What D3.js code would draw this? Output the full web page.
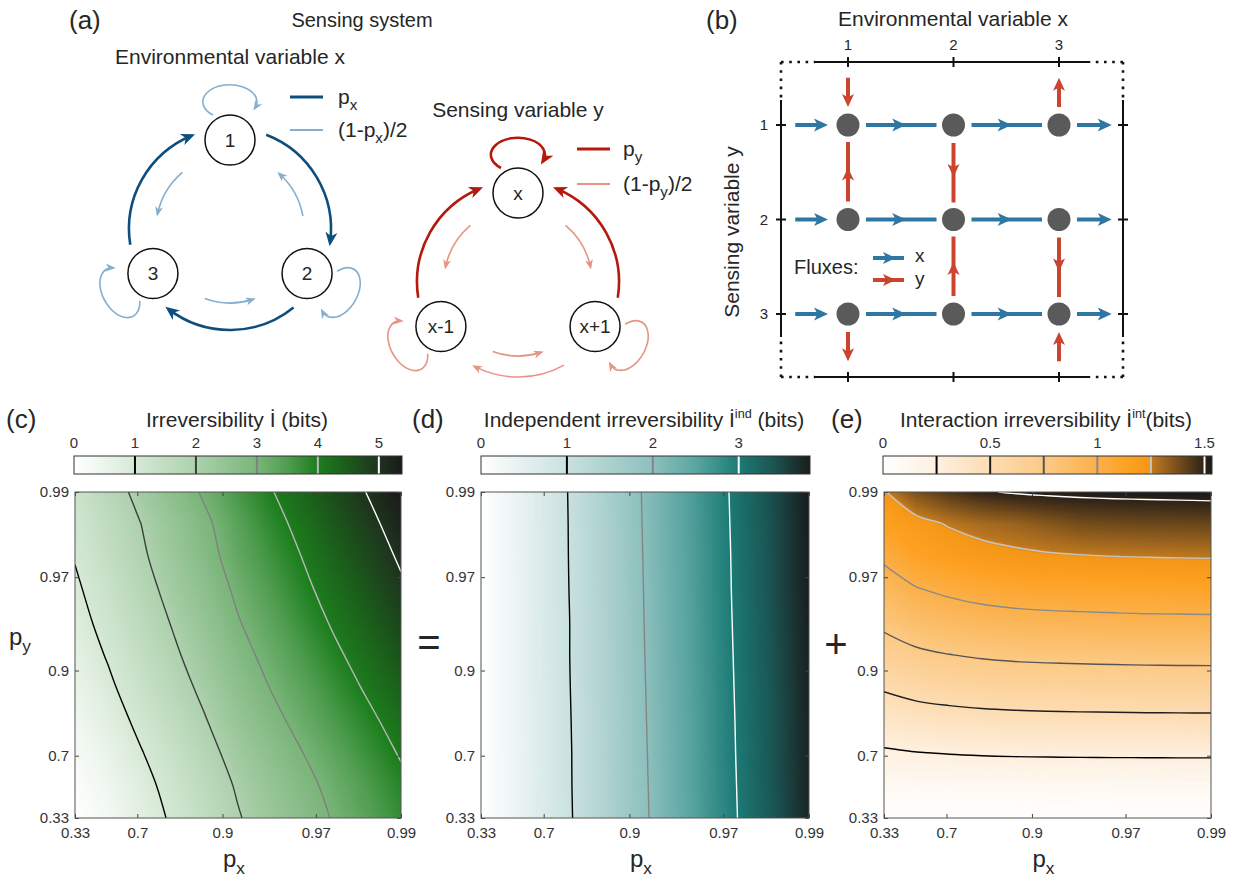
<!DOCTYPE html>
<html>
<head>
<meta charset="utf-8">
<script src="https://cdn.jsdelivr.net/npm/d3@7"></script>
<style>
html,body{margin:0;padding:0;background:#fff;}
text{white-space:pre;}
</style>
</head>
<body>
<script>
// ======================= DATA =======================
// Panel (a): Markov chains of the environment x and of the sensor y
const envStates = ["1", "2", "3"];
const sensStates = ["x", "x+1", "x-1"];
// [from, to, kind]  kind "p" = p, "q" = (1-p)/2
const envTransitions = [
  ["1","2","p"], ["2","3","p"], ["3","1","p"],
  ["2","1","q"], ["1","3","q"], ["3","2","q"],
  ["1","1","q"], ["2","2","q"], ["3","3","q"]
];
const sensTransitions = [
  ["x-1","x","p"], ["x+1","x","p"], ["x","x","p"],
  ["x","x-1","q"], ["x","x+1","q"], ["x-1","x+1","q"], ["x+1","x-1","q"],
  ["x-1","x-1","q"], ["x+1","x+1","q"]
];

// Panel (b): state grid and fluxes
const gridXStates = [1, 2, 3];
const gridYStates = [1, 2, 3];
const xFluxSegments = [[0.5, 1], [1, 2], [2, 3], [3, 3.5]];   // every row, rightwards
const yFluxes = [
  {x: 1, from: 0.5, to: 1}, {x: 1, from: 2, to: 1}, {x: 1, from: 3, to: 3.5},
  {x: 2, from: 1, to: 2},   {x: 2, from: 3, to: 2},
  {x: 3, from: 1, to: 0.5}, {x: 3, from: 2, to: 3}, {x: 3, from: 3.5, to: 3}
];

// Panels (c)-(e): irreversibility maps (rows: py from 0.99 down to 0.33; columns: px from 0.33 to 0.99)
const pxGrid = [0.33, 0.56, 0.711, 0.81, 0.875, 0.918, 0.946, 0.965, 0.977, 0.985, 0.99];
const pyGrid = [0.99, 0.985, 0.977, 0.965, 0.946, 0.918, 0.875, 0.81, 0.711, 0.56, 0.33];
const axisTicks = [0.33, 0.7, 0.9, 0.97, 0.99];

const irrTotal = [
  [1.24, 1.70, 2.17, 2.64, 3.09, 3.57, 3.96, 4.33, 4.70, 5.04, 5.37],
  [1.14, 1.54, 1.99, 2.44, 2.89, 3.39, 3.80, 4.18, 4.55, 4.89, 5.22],
  [1.03, 1.45, 1.89, 2.34, 2.78, 3.27, 3.65, 4.03, 4.40, 4.74, 5.07],
  [0.91, 1.31, 1.75, 2.20, 2.64, 3.11, 3.50, 3.89, 4.25, 4.59, 4.92],
  [0.79, 1.18, 1.61, 2.04, 2.49, 2.96, 3.34, 3.73, 4.09, 4.43, 4.76],
  [0.66, 1.04, 1.46, 1.89, 2.32, 2.79, 3.18, 3.56, 3.92, 4.26, 4.59],
  [0.52, 0.89, 1.30, 1.72, 2.15, 2.61, 3.01, 3.38, 3.74, 4.09, 4.42],
  [0.37, 0.73, 1.13, 1.54, 1.97, 2.43, 2.83, 3.20, 3.56, 3.90, 4.23],
  [0.23, 0.56, 0.96, 1.35, 1.79, 2.24, 2.63, 3.01, 3.37, 3.72, 4.05],
  [0.10, 0.41, 0.80, 1.20, 1.62, 2.07, 2.46, 2.84, 3.19, 3.54, 3.87],
  [0.00, 0.31, 0.69, 1.08, 1.50, 1.95, 2.34, 2.72, 3.07, 3.42, 3.75]
];
const irrInd = [
  [0, 0.33, 0.73, 1.15, 1.58, 2.05, 2.43, 2.80, 3.17, 3.50, 3.83],
  [0, 0.33, 0.73, 1.14, 1.57, 2.04, 2.42, 2.79, 3.16, 3.49, 3.82],
  [0, 0.33, 0.72, 1.14, 1.56, 2.03, 2.41, 2.78, 3.15, 3.48, 3.81],
  [0, 0.32, 0.72, 1.13, 1.56, 2.02, 2.40, 2.78, 3.14, 3.48, 3.81],
  [0, 0.32, 0.71, 1.12, 1.55, 2.01, 2.39, 2.77, 3.13, 3.47, 3.80],
  [0, 0.32, 0.71, 1.12, 1.54, 2.00, 2.39, 2.76, 3.12, 3.46, 3.79],
  [0, 0.32, 0.71, 1.11, 1.53, 1.99, 2.38, 2.75, 3.11, 3.45, 3.78],
  [0, 0.32, 0.70, 1.10, 1.52, 1.98, 2.37, 2.74, 3.10, 3.44, 3.77],
  [0, 0.31, 0.70, 1.09, 1.52, 1.97, 2.36, 2.74, 3.09, 3.44, 3.77],
  [0, 0.31, 0.69, 1.09, 1.51, 1.96, 2.35, 2.73, 3.08, 3.43, 3.76],
  [0, 0.31, 0.69, 1.08, 1.50, 1.95, 2.34, 2.72, 3.07, 3.42, 3.75]
];
const irrInt = [
  [1.24, 1.37, 1.44, 1.49, 1.51, 1.52, 1.525, 1.53, 1.533, 1.536, 1.54],
  [1.141, 1.21, 1.262, 1.297, 1.317, 1.35, 1.381, 1.389, 1.394, 1.396, 1.399],
  [1.03, 1.121, 1.169, 1.203, 1.224, 1.235, 1.242, 1.249, 1.253, 1.256, 1.258],
  [0.911, 0.992, 1.034, 1.065, 1.083, 1.093, 1.099, 1.105, 1.109, 1.111, 1.113],
  [0.789, 0.859, 0.895, 0.921, 0.937, 0.946, 0.951, 0.956, 0.960, 0.961, 0.963],
  [0.656, 0.715, 0.746, 0.768, 0.782, 0.789, 0.794, 0.798, 0.801, 0.803, 0.804],
  [0.518, 0.565, 0.590, 0.608, 0.618, 0.624, 0.628, 0.631, 0.634, 0.635, 0.636],
  [0.370, 0.406, 0.426, 0.439, 0.447, 0.452, 0.455, 0.457, 0.459, 0.460, 0.461],
  [0.228, 0.246, 0.257, 0.264, 0.269, 0.271, 0.273, 0.274, 0.275, 0.276, 0.276],
  [0.100, 0.104, 0.106, 0.108, 0.108, 0.109, 0.109, 0.110, 0.110, 0.110, 0.110],
  [0, 0, 0, 0, 0, 0, 0, 0, 0, 0, 0]
];
const levelsTotal = [1, 2, 3, 4, 5];
const levelsInd = [1, 2, 3];
const levelsInt = [0.25, 0.5, 0.75, 1, 1.25, 1.5];
const cbTicksTotal = [0, 1, 2, 3, 4, 5];
const cbTicksInd = [0, 1, 2, 3];
const cbTicksInt = [0, 0.5, 1, 1.5];
const cbMaxTotal = 5.38, cbMaxInd = 3.83, cbMaxInt = 1.535;

// ======================= SETUP =======================
const TXT = "#262626";
const FONT = "'Liberation Sans', Arial, Helvetica, sans-serif";
const svg = d3.select("body").append("svg")
  .attr("width", 1236).attr("height", 880)
  .attr("font-family", FONT).style("display", "block");
const defs = svg.append("defs");

function richText(g, x, y, parts, size, anchor, fill) {
  const t = g.append("text").attr("x", x).attr("y", y)
    .attr("font-size", size).attr("text-anchor", anchor || "start")
    .attr("fill", fill || TXT);
  let shift = 0;
  parts.forEach(pt => {
    const s = Array.isArray(pt) ? pt[0] : pt;
    const kind = Array.isArray(pt) ? pt[1] : null;
    let target = 0, fs = size;
    if (kind === "sub") { target = size * 0.28; fs = size * 0.72; }
    if (kind === "sup") { target = -size * 0.45; fs = size * 0.6; }
    t.append("tspan").text(s).attr("dy", target - shift).attr("font-size", fs);
    shift = target;
  });
  return t;
}

function marker(id, color, len, wid, ahead) {
  defs.append("marker").attr("id", id)
    .attr("markerUnits", "userSpaceOnUse")
    .attr("viewBox", `${ahead - len - 1} ${-wid / 2 - 1} ${len + 2} ${wid + 2}`)
    .attr("markerWidth", len + 2).attr("markerHeight", wid + 2)
    .attr("refX", 0).attr("refY", 0).attr("orient", "auto")
    .append("path")
    .attr("d", `M${ahead},0 L${ahead - len},${-wid / 2} L${ahead - len * 0.72},0 L${ahead - len},${wid / 2}Z`)
    .attr("fill", color);
}

// ======================= PANEL (a) =======================
const BLUE_D = "#0e4e7e", BLUE_L = "#86aecd", RED_D = "#b3190d", RED_L = "#e69484";
marker("mBD", BLUE_D, 14, 12, 4);
marker("mBL", BLUE_L, 10, 8, 3);
marker("mRD", RED_D, 14, 12, 4);
marker("mRL", RED_L, 10, 8, 3);

const gA = svg.append("g");
gA.append("text").attr("x", 69).attr("y", 29).attr("font-size", 26).attr("fill", TXT).text("(a)");
gA.append("text").attr("x", 362).attr("y", 27).attr("font-size", 20).attr("fill", TXT)
  .attr("text-anchor", "middle").text("Sensing system");
gA.append("text").attr("x", 230).attr("y", 64).attr("font-size", 21).attr("fill", TXT)
  .attr("text-anchor", "middle").text("Environmental variable x");
gA.append("text").attr("x", 518).attr("y", 117).attr("font-size", 21).attr("fill", TXT)
  .attr("text-anchor", "middle").text("Sensing variable y");

function drawChain(g, states, transitions, cx, cy, dark, light, mDark, mLight) {
  const angles = [-90, 30, 150];
  const dist = 89;
  const pos = {};
  states.forEach((s, i) => {
    const a = angles[i] * Math.PI / 180;
    pos[s] = {a: angles[i], x: cx + dist * Math.cos(a), y: cy + dist * Math.sin(a)};
  });
  transitions.forEach(([from, to, kind]) => {
    const isDark = kind === "p";
    const color = isDark ? dark : light;
    const sw = isDark ? 2.6 : 1.6;
    const mk = `url(#${isDark ? mDark : mLight})`;
    if (from === to) {
      const p = pos[from];
      g.append("path").attr("d", "M-17,-25 A27,17 0 1 1 25,-32")
        .attr("transform", `translate(${p.x},${p.y}) rotate(${p.a + 90})`)
        .attr("fill", "none").attr("stroke", color).attr("stroke-width", sw)
        .attr("marker-end", mk);
      return;
    }
    const a0 = pos[from].a, a1 = pos[to].a;
    const diff = ((a1 - a0 + 540) % 360) - 180;
    const s = Math.sign(diff);
    const pairHasDark = transitions.some(t => t[2] === "p" &&
      ((t[0] === from && t[1] === to) || (t[0] === to && t[1] === from)));
    const outer = isDark || (!pairHasDark && s > 0);
    let st, en, r;
    if (outer) {
      if (isDark) { st = a0 + s * 21; en = a1 - s * 22.5; r = 101; }
      else { st = a0 + s * 31; en = a1 - s * 33; r = 95; }
    } else {
      const mid = a0 + diff / 2;
      st = mid - s * 20; en = mid + s * 18; r = 74;
    }
    const path = d3.path();
    path.arc(cx, cy, r, st * Math.PI / 180, en * Math.PI / 180, s < 0);
    g.append("path").attr("d", path.toString())
      .attr("fill", "none").attr("stroke", color).attr("stroke-width", sw)
      .attr("marker-end", mk);
  });
  states.forEach(s => {
    const p = pos[s];
    g.append("circle").attr("cx", p.x).attr("cy", p.y).attr("r", 25)
      .attr("fill", "#fff").attr("stroke", "#111").attr("stroke-width", 1.5);
    g.append("text").attr("x", p.x).attr("y", p.y + 6.5).attr("text-anchor", "middle")
      .attr("font-size", 19).attr("fill", TXT).text(s);
  });
}
drawChain(gA, envStates, envTransitions, 230, 229, BLUE_D, BLUE_L, "mBD", "mBL");
drawChain(gA, sensStates, sensTransitions, 518, 282, RED_D, RED_L, "mRD", "mRL");

// legends of (a)
gA.append("line").attr("x1", 290).attr("x2", 323).attr("y1", 97).attr("y2", 97)
  .attr("stroke", BLUE_D).attr("stroke-width", 3);
gA.append("line").attr("x1", 290).attr("x2", 323).attr("y1", 130).attr("y2", 130)
  .attr("stroke", BLUE_L).attr("stroke-width", 2.2);
richText(gA, 338, 104, ["p", ["x", "sub"]], 21);
richText(gA, 338, 137, ["(1-p", ["x", "sub"], ")/2"], 21);
gA.append("line").attr("x1", 577).attr("x2", 610).attr("y1", 149).attr("y2", 149)
  .attr("stroke", RED_D).attr("stroke-width", 3);
gA.append("line").attr("x1", 577).attr("x2", 610).attr("y1", 184).attr("y2", 184)
  .attr("stroke", RED_L).attr("stroke-width", 2.2);
richText(gA, 623, 156, ["p", ["y", "sub"]], 21);
richText(gA, 623, 191, ["(1-p", ["y", "sub"], ")/2"], 21);

// ======================= PANEL (b) =======================
const gB = svg.append("g");
const FLUX_X = "#2f77a3", FLUX_Y = "#cb4430", NODE = "#5a5a5a";
const xb = d3.scaleLinear().domain([1, 3]).range([848, 1059]);
const yb = d3.scaleLinear().domain([1, 3]).range([125, 314]);

gB.append("text").attr("x", 706).attr("y", 29).attr("font-size", 26).attr("fill", TXT).text("(b)");
gB.append("text").attr("x", 953).attr("y", 26).attr("font-size", 21).attr("fill", TXT)
  .attr("text-anchor", "middle").text("Environmental variable x");
gB.append("text").attr("transform", "translate(739,232) rotate(-90)")
  .attr("font-size", 21).attr("fill", TXT).attr("text-anchor", "middle").text("Sensing variable y");

// frame
const fL = 781, fR = 1123, fT = 62, fB = 377;
const sX0 = 815, sX1 = 1090, sY0 = 100, sY1 = 337;
function seg(x1, y1, x2, y2, dotted) {
  gB.append("line").attr("x1", x1).attr("y1", y1).attr("x2", x2).attr("y2", y2)
    .attr("stroke", "#111").attr("stroke-width", dotted ? 2.6 : 2)
    .attr("stroke-dasharray", dotted ? "2.6,5.6" : null);
}
[fT, fB].forEach(y => {
  seg(sX0, y, sX1, y, false);
  seg(fL, y, sX0, y, true);
  seg(fR, y, sX1, y, true);
});
[fL, fR].forEach(x => {
  seg(x, sY0, x, sY1, false);
  seg(x, fT, x, sY0, true);
  seg(x, fB, x, sY1, true);
});
gridXStates.forEach(s => {
  [fT, fB].forEach(y => seg(xb(s), y - 5, xb(s), y + 5, false));
  gB.append("text").attr("x", xb(s)).attr("y", 50).attr("text-anchor", "middle")
    .attr("font-size", 15).attr("fill", TXT).text(s);
});
gridYStates.forEach(s => {
  [fL, fR].forEach(x => seg(x - 5, yb(s), x + 5, yb(s), false));
  gB.append("text").attr("x", 768).attr("y", yb(s) + 5).attr("text-anchor", "end")
    .attr("font-size", 15).attr("fill", TXT).text(s);
});

function arrow(g, x1, y1, x2, y2, tipFrac, color, len, wid, lw) {
  const dx = x2 - x1, dy = y2 - y1, L = Math.hypot(dx, dy);
  const ux = dx / L, uy = dy / L;
  const tx = x1 + dx * tipFrac, ty = y1 + dy * tipFrac;
  const lineEnd = tipFrac >= 1 ? [tx - ux * len * 0.6, ty - uy * len * 0.6] : [x2, y2];
  g.append("line").attr("x1", x1).attr("y1", y1).attr("x2", lineEnd[0]).attr("y2", lineEnd[1])
    .attr("stroke", color).attr("stroke-width", lw);
  const bx = tx - ux * len, by = ty - uy * len;
  const nx = tx - ux * len * 0.75, ny = ty - uy * len * 0.75;
  const px = -uy * wid / 2, py = ux * wid / 2;
  g.append("path").attr("d",
    `M${tx},${ty} L${bx + px},${by + py} L${nx},${ny} L${bx - px},${by - py}Z`)
    .attr("fill", color);
}
const isNode = v => Number.isInteger(v);
gridYStates.forEach(row => {
  xFluxSegments.forEach(([a, b]) => {
    const both = isNode(a) && isNode(b);
    const x1 = isNode(a) ? xb(a) + 18 : xb(a);
    const x2 = isNode(b) ? xb(b) - (both ? 17 : 20) : xb(b);
    arrow(gB, x1, yb(row), x2, yb(row), both ? 0.57 : 1, FLUX_X, 14, 13, 4);
  });
});
yFluxes.forEach(f => {
  const dir = Math.sign(f.to - f.from);
  const both = isNode(f.from) && isNode(f.to);
  const y1 = isNode(f.from) ? yb(f.from) + dir * 18 : yb(f.from);
  const y2 = isNode(f.to) ? yb(f.to) - dir * (both ? 17 : 18) : yb(f.to);
  arrow(gB, xb(f.x), y1, xb(f.x), y2, both ? 0.57 : 1, FLUX_Y, 13, 12, 4);
});
gridYStates.forEach(r => gridXStates.forEach(c => {
  gB.append("circle").attr("cx", xb(c)).attr("cy", yb(r)).attr("r", 11.5).attr("fill", NODE);
}));
// flux legend
gB.append("text").attr("x", 794).attr("y", 274).attr("font-size", 20).attr("fill", TXT).text("Fluxes:");
arrow(gB, 873, 258, 904, 258, 0.74, FLUX_X, 13, 12, 4);
arrow(gB, 873, 280, 904, 280, 0.74, FLUX_Y, 13, 12, 4);
gB.append("text").attr("x", 915).attr("y", 262).attr("font-size", 19).attr("fill", TXT).text("x");
gB.append("text").attr("x", 915).attr("y", 285).attr("font-size", 19).attr("fill", TXT).text("y");

// ======================= PANELS (c)-(e) =======================
const panels = [
  {
    letter: "(c)", letterX: 6, title: ["Irreversibility İ (bits)"], titleX: 237,
    values: irrTotal, levels: levelsTotal, cbTicks: cbTicksTotal, cbMax: cbMaxTotal,
    levelColors: ["#000000", "#3d3d3d", "#808080", "#b8b8b8", "#ffffff"],
    stops: [[0, "#ffffff"], [0.5, "#ecf5ec"], [1, "#d6e9d6"], [2, "#add1ad"], [3, "#7ab57a"],
            [3.5, "#509d50"], [3.97, "#1e7f1e"], [4.5, "#1b5a1b"], [5.0, "#1f331f"], [5.38, "#1a1a1a"]],
    plot: [75, 401, 492, 818], cb: [74, 402], ylabel: true
  },
  {
    letter: "(d)", letterX: 412, title: ["Independent irreversibility İ", ["ind", "sup"], " (bits)"], titleX: 644,
    values: irrInd, levels: levelsInd, cbTicks: cbTicksInd, cbMax: cbMaxInd,
    levelColors: ["#000000", "#858585", "#ffffff"],
    stops: [[0, "#ffffff"], [1, "#c9e1e0"], [2, "#8dc0bd"], [2.5, "#5aa5a1"], [3, "#1c7b76"],
            [3.4, "#1b5553"], [3.83, "#1a1c1c"]],
    plot: [481, 809, 492, 818], cb: [481, 810], ylabel: false
  },
  {
    letter: "(e)", letterX: 831, title: ["Interaction irreversibility İ", ["int", "sup"], "(bits)"], titleX: 1046,
    values: irrInt, levels: levelsInt, cbTicks: cbTicksInt, cbMax: cbMaxInt,
    levelColors: ["#000000", "#1e1e1e", "#555555", "#8a8a8a", "#c4c4c4", "#ffffff"],
    stops: [[0, "#ffffff"], [0.25, "#fef0e0"], [0.5, "#fddcb2"], [0.75, "#fcca86"], [1.0, "#fbb04a"],
            [1.15, "#fea020"], [1.249, "#f39618"], [1.25, "#c27b20"], [1.5, "#2c2218"], [1.535, "#1c1a18"]],
    plot: [884, 1211, 492, 818], cb: [883, 1212], ylabel: false
  }
];

panels.forEach((cfg, pi) => {
  const [x0, x1, y0, y1] = cfg.plot;
  const xs = d3.scaleLog().domain([1 - 0.33, 1 - 0.99]).range([x0, x1]);
  const ys = d3.scaleLog().domain([1 - 0.33, 1 - 0.99]).range([y1, y0]);
  const X = p => xs(1 - p), Y = p => ys(1 - p);
  const nx = pxGrid.length, ny = pyGrid.length;
  const lerp = (arr, S, c, n) => {
    const j = Math.max(0, Math.min(n - 1, c - 0.5));
    const j0 = Math.min(n - 2, Math.floor(j));
    const f = j - j0;
    return S(arr[j0]) * (1 - f) + S(arr[j0 + 1]) * f;
  };
  const gx = c => lerp(pxGrid, X, c, nx);
  const gy = c => lerp(pyGrid, Y, c, ny);
  const flat = cfg.values.flat();
  const color = d3.scaleLinear().domain(cfg.stops.map(d => d[0])).range(cfg.stops.map(d => d[1]))
    .interpolate(d3.interpolateRgb).clamp(true);

  const g = svg.append("g");
  // letter + title
  g.append("text").attr("x", cfg.letterX).attr("y", 428).attr("font-size", 26).attr("fill", TXT).text(cfg.letter);
  richText(g, cfg.titleX, 427, cfg.title, 21, "middle");

  // colorbar
  const [c0, c1] = cfg.cb;
  const cbs = d3.scaleLinear().domain([0, cfg.cbMax]).range([c0, c1]);
  const gid = "grad" + pi;
  const grad = defs.append("linearGradient").attr("id", gid).attr("x1", 0).attr("x2", 1).attr("y1", 0).attr("y2", 0);
  d3.range(0, 201).forEach(i => {
    grad.append("stop").attr("offset", (i / 200)).attr("stop-color", color(i / 200 * cfg.cbMax));
  });
  g.append("rect").attr("x", c0).attr("y", 456).attr("width", c1 - c0).attr("height", 18)
    .attr("fill", `url(#${gid})`);
  cfg.levels.forEach((lv, i) => {
    g.append("line").attr("x1", cbs(lv)).attr("x2", cbs(lv)).attr("y1", 456).attr("y2", 474)
      .attr("stroke", cfg.levelColors[i]).attr("stroke-width", 2);
  });
  g.append("rect").attr("x", c0).attr("y", 456).attr("width", c1 - c0).attr("height", 18)
    .attr("fill", "none").attr("stroke", "#333").attr("stroke-width", 1);
  cfg.cbTicks.forEach(t => {
    g.append("text").attr("x", cbs(t)).attr("y", 448).attr("text-anchor", "middle")
      .attr("font-size", 15).attr("fill", "#333").text(t);
  });

  // heat map
  const clipId = "clip" + pi;
  defs.append("clipPath").attr("id", clipId).append("rect")
    .attr("x", x0).attr("y", y0).attr("width", x1 - x0).attr("height", y1 - y0);
  const gm = g.append("g").attr("clip-path", `url(#${clipId})`);
  const N = 180, step = cfg.cbMax / N;
  gm.append("rect").attr("x", x0).attr("y", y0).attr("width", x1 - x0).attr("height", y1 - y0)
    .attr("fill", color(step / 2));
  const proj = d3.geoTransform({point: function (x, y) { this.stream.point(gx(x), gy(y)); }});
  const gp = d3.geoPath(proj);
  const bands = d3.contours().size([nx, ny]).thresholds(d3.range(1, N).map(i => i * step))(flat);
  gm.selectAll("path.band").data(bands).join("path").attr("class", "band")
    .attr("d", gp)
    .attr("fill", d => color(d.value + step / 2))
    .attr("stroke", d => color(d.value + step / 2)).attr("stroke-width", 0.6);

  // contour lines
  const lineGen = d3.line().x(p => gx(p[0])).y(p => gy(p[1])).curve(d3.curveCatmullRom.alpha(0.5));
  const iso = d3.contours().size([nx, ny]).thresholds(cfg.levels)(flat);
  iso.forEach((c, li) => {
    const segs = [];
    const onB = p => p[0] <= 0 || p[0] >= nx || p[1] <= 0 || p[1] >= ny;
    c.coordinates.forEach(poly => poly.forEach(ring => {
      const pts = ring.slice(0, -1);
      const k = pts.findIndex(onB);
      if (k < 0) { segs.push(ring); return; }
      const rot = pts.slice(k).concat(pts.slice(0, k));
      let cur = [];
      rot.forEach(p => {
        if (onB(p)) { if (cur.length > 1) segs.push(cur); cur = []; }
        else cur.push(p);
      });
      if (cur.length > 1) segs.push(cur);
    }));
    segs.forEach(sg => {
      gm.append("path").attr("d", lineGen(sg)).attr("fill", "none")
        .attr("stroke", cfg.levelColors[li]).attr("stroke-width", 1.4);
    });
  });

  // axes
  const tv = axisTicks.map(p => 1 - p);
  const fmt = v => String(axisTicks[tv.indexOf(v)]);
  const styleAxis = sel => {
    sel.select(".domain").remove();
    sel.selectAll(".tick line").attr("stroke", "#444");
    sel.selectAll(".tick text").attr("font-size", 15).attr("fill", "#333").attr("font-family", FONT);
  };
  g.append("g").attr("transform", `translate(0,${y1})`)
    .call(d3.axisBottom(xs).tickValues(tv).tickFormat(fmt).tickSizeInner(-4).tickSizeOuter(0).tickPadding(9))
    .call(styleAxis);
  g.append("g").attr("transform", `translate(${x0},0)`)
    .call(d3.axisLeft(ys).tickValues(tv).tickFormat(fmt).tickSizeInner(-4).tickSizeOuter(0).tickPadding(6))
    .call(styleAxis);
  g.append("g").attr("transform", `translate(0,${y0})`)
    .call(d3.axisTop(xs).tickValues(tv).tickFormat("").tickSizeInner(-4).tickSizeOuter(0))
    .call(styleAxis);
  g.append("g").attr("transform", `translate(${x1},0)`)
    .call(d3.axisRight(ys).tickValues(tv).tickFormat("").tickSizeInner(-4).tickSizeOuter(0))
    .call(styleAxis);
  g.append("rect").attr("x", x0).attr("y", y0).attr("width", x1 - x0).attr("height", y1 - y0)
    .attr("fill", "none").attr("stroke", "#555").attr("stroke-width", 1);

  richText(g, (x0 + x1) / 2 - 4, 867, ["p", ["x", "sub"]], 24, "middle");
  if (cfg.ylabel) richText(g, 9, 645, ["p", ["y", "sub"]], 24, "start");
});

svg.append("text").attr("x", 429).attr("y", 656).attr("font-size", 40).attr("text-anchor", "middle")
  .attr("fill", TXT).text("=");
svg.append("text").attr("x", 836).attr("y", 658).attr("font-size", 40).attr("text-anchor", "middle")
  .attr("fill", TXT).text("+");
</script>
</body>
</html>
